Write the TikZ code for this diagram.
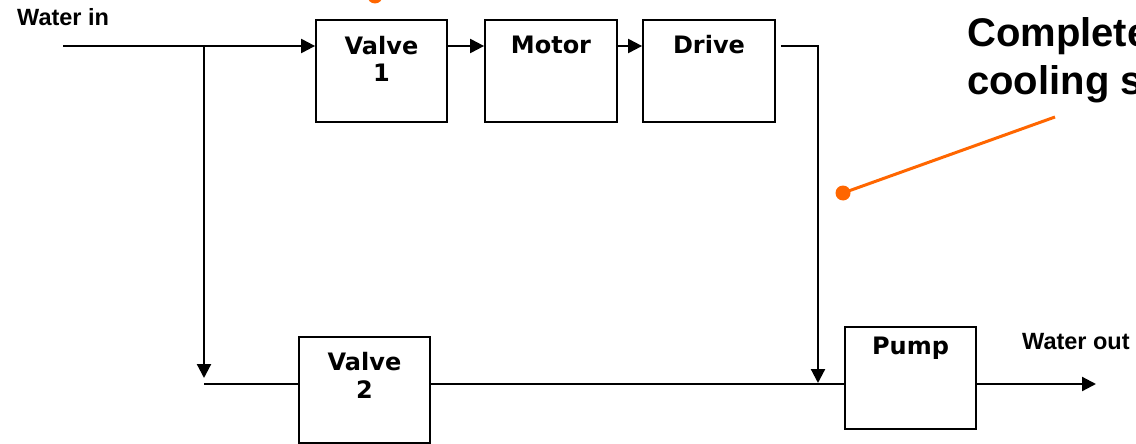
\documentclass[tikz,border=0pt]{standalone}
\usepackage{fontspec}
\usetikzlibrary{arrows.meta}
\newfontfamily\boxfont{DejaVu Sans}
\newfontfamily\labfont{Liberation Sans}
\definecolor{callout}{RGB}{255,102,0}
\begin{document}
\begin{tikzpicture}[x=1pt,y=-1pt,
  unit/.style={draw,line width=1.8pt,rectangle,inner sep=0pt},
  boxlbl/.style={inner sep=0pt,anchor=base,font=\boxfont\bfseries\fontsize{24}{28}\selectfont},
  flowlbl/.style={inner sep=0pt,anchor=base west,font=\labfont\bfseries\fontsize{23.5}{27}\selectfont},
  notelbl/.style={inner sep=0pt,anchor=base west,font=\labfont\bfseries\fontsize{40}{48}\selectfont},
  flow/.style={line width=2.2pt},
  flowarr/.style={flow,-{Triangle[length=14pt,width=14pt]}},
  note/.style={callout,line width=3pt}]
\useasboundingbox (0,0) rectangle (1136,444);

% units
\node[unit,minimum width=131pt,minimum height=102pt] (v1) at (381.5,71) {};
\node[unit,minimum width=132pt,minimum height=102pt] (m)  at (551,71) {};
\node[unit,minimum width=132pt,minimum height=102pt] (d)  at (709,71) {};
\node[unit,minimum width=131pt,minimum height=106pt] (v2) at (364.5,390) {};
\node[unit,minimum width=131pt,minimum height=102pt] (p)  at (910.5,378) {};

% unit labels
\node[boxlbl] (v1a) at ([yshift=-35pt]v1.north) {Valve};
\node[boxlbl] (v1b) at ([yshift=-62pt]v1.north) {1};
\node[boxlbl] (ma)  at ([yshift=-34pt]m.north) {Motor};
\node[boxlbl] (da)  at ([yshift=-34pt]d.north) {Drive};
\node[boxlbl] (v2a) at ([yshift=-34pt]v2.north) {Valve};
\node[boxlbl] (v2b) at ([yshift=-62pt]v2.north) {2};
\node[boxlbl] (pa)  at ([yshift=-28pt]p.north) {Pump};

% flow labels
\node[flowlbl] (win lbl)  at (17,26) {Water in};
\node[flowlbl] (wout lbl) at (1022,349) {Water out};

% routing points
\coordinate (win)  at (63,46);
\coordinate (j)    at (204,46);
\coordinate (bend) at (818,46);
\coordinate (low)  at (204,384);
\coordinate (wout) at (1096,384);

% upper branch
\draw[flow] (win) -- (j);
\draw[flowarr] (j) -- (j -| v1.west);
\draw[flowarr] (j -| v1.east) -- (j -| m.west);
\draw[flowarr] ([xshift=-2pt]j -| m.east) -- (j -| d.west);
\draw[flowarr] ([xshift=5pt]j -| d.east) -- (bend) -- ([yshift=1pt]bend |- low);

% lower branch
\draw[flowarr,shorten >=6pt] (j) -- (low);
\draw[flow] (low) -- (low -| v2.west);
\draw[flow] (low -| v2.east) -- (low -| p.west);
\draw[flowarr] (low -| p.east) -- (wout);

% callouts
\coordinate (dot)  at (843,193);
\coordinate (ctip) at (1055,117);
\fill[callout] (dot) circle (7.5);
\draw[note] (dot) -- (ctip);
\coordinate (dot2) at (375,-4);
\fill[callout] (dot2) circle (7.5);
\node[notelbl] (nl1) at (967,47) {Complete};
\node[notelbl] (nl2) at (967,95) {cooling system};
\end{tikzpicture}
\end{document}
